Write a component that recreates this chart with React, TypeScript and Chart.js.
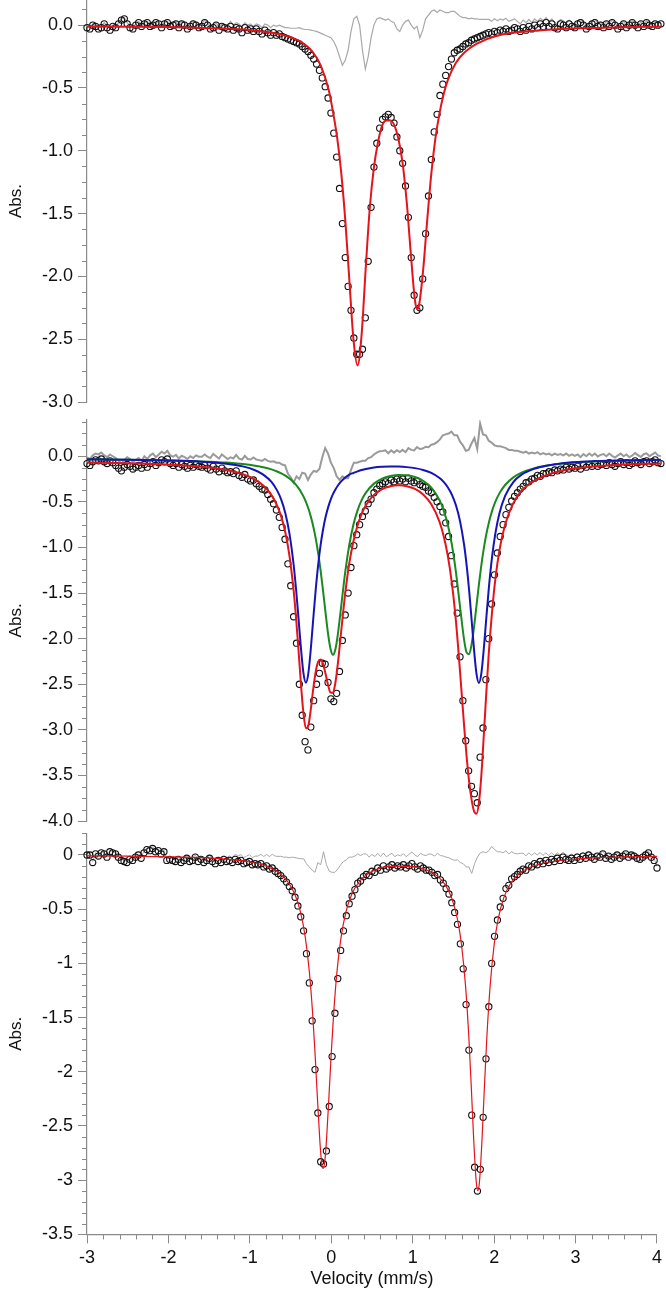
import React, { useEffect, useRef } from "react";
import { Chart, registerables } from "chart.js";

Chart.register(...registerables);

const FONT = "'Liberation Sans', Arial, Helvetica, sans-serif";
Chart.defaults.font.family = FONT;

// ---------- velocity channels (mm/s) ----------
const velocity = [
  -3, -2.965, -2.93, -2.895, -2.86, -2.825, -2.79, -2.755, -2.72, -2.685,
  -2.65, -2.615, -2.58, -2.545, -2.51, -2.475, -2.44, -2.405, -2.37, -2.335,
  -2.3, -2.265, -2.23, -2.195, -2.16, -2.125, -2.09, -2.055, -2.02, -1.985,
  -1.95, -1.915, -1.88, -1.845, -1.81, -1.775, -1.74, -1.705, -1.67, -1.635,
  -1.6, -1.565, -1.53, -1.495, -1.46, -1.425, -1.39, -1.355, -1.32, -1.285,
  -1.25, -1.215, -1.18, -1.145, -1.11, -1.075, -1.04, -1.005, -0.97, -0.935,
  -0.9, -0.865, -0.83, -0.795, -0.76, -0.725, -0.69, -0.655, -0.62, -0.585,
  -0.55, -0.515, -0.48, -0.445, -0.41, -0.375, -0.34, -0.305, -0.27, -0.235,
  -0.2, -0.165, -0.13, -0.095, -0.06, -0.025, 0.01, 0.045, 0.08, 0.115,
  0.15, 0.185, 0.22, 0.255, 0.29, 0.325, 0.36, 0.395, 0.43, 0.465,
  0.5, 0.535, 0.57, 0.605, 0.64, 0.675, 0.71, 0.745, 0.78, 0.815,
  0.85, 0.885, 0.92, 0.955, 0.99, 1.025, 1.06, 1.095, 1.13, 1.165,
  1.2, 1.235, 1.27, 1.305, 1.34, 1.375, 1.41, 1.445, 1.48, 1.515,
  1.55, 1.585, 1.62, 1.655, 1.69, 1.725, 1.76, 1.795, 1.83, 1.865,
  1.9, 1.935, 1.97, 2.005, 2.04, 2.075, 2.11, 2.145, 2.18, 2.215,
  2.25, 2.285, 2.32, 2.355, 2.39, 2.425, 2.46, 2.495, 2.53, 2.565,
  2.6, 2.635, 2.67, 2.705, 2.74, 2.775, 2.81, 2.845, 2.88, 2.915,
  2.95, 2.985, 3.02, 3.055, 3.09, 3.125, 3.16, 3.195, 3.23, 3.265,
  3.3, 3.335, 3.37, 3.405, 3.44, 3.475, 3.51, 3.545, 3.58, 3.615,
  3.65, 3.685, 3.72, 3.755, 3.79, 3.825, 3.86, 3.895, 3.93, 3.965,
  4,
];

// ---------- top panel ----------
const topData = [
  -0.02, -0.03, 0.0, -0.01, -0.03, -0.02, 0.01, -0.02, -0.04, -0.01,
  -0.02, 0.01, 0.04, 0.05, 0.01, -0.02, -0.03, 0.0, 0.02, -0.01,
  0.01, 0.02, -0.01, 0.0, 0.02, 0.01, -0.02, 0.01, 0.02, -0.01,
  0.0, 0.01, -0.02, 0.01, 0.0, -0.03, -0.01, 0.01, 0.0, -0.02,
  -0.01, 0.02, 0.0, -0.03, -0.02, 0.0, -0.04, -0.01, -0.02, -0.03,
  -0.01, -0.04, -0.02, -0.03, -0.06, -0.02, -0.04, -0.03, -0.05, -0.03,
  -0.05, -0.07, -0.04, -0.06, -0.08, -0.06, -0.08, -0.07, -0.09, -0.1,
  -0.11, -0.12, -0.13, -0.14, -0.15, -0.17, -0.19, -0.21, -0.24, -0.27,
  -0.31, -0.36, -0.42, -0.49, -0.58, -0.7, -0.86, -1.05, -1.3, -1.58,
  -1.85, -2.08, -2.27, -2.49, -2.62, -2.62, -2.58, -2.33, -1.88, -1.45,
  -1.13, -0.94, -0.82, -0.75, -0.73, -0.71, -0.735, -0.78, -0.89, -1.0,
  -1.1, -1.28, -1.53, -1.85, -2.15, -2.27, -2.25, -2.02, -1.66, -1.36,
  -1.07, -0.85, -0.71, -0.56, -0.47, -0.4, -0.33, -0.27, -0.22, -0.2,
  -0.19, -0.17, -0.15, -0.14, -0.12, -0.11, -0.1, -0.09, -0.08, -0.07,
  -0.06, -0.07, -0.05, -0.06, -0.04, -0.05, -0.03, -0.05, -0.04, -0.02,
  -0.03, -0.05, -0.02, -0.04, -0.01, -0.03, 0.0, -0.02, 0.01, -0.01,
  0.02, -0.01, 0.01, -0.02, -0.03, 0.01, 0.0, -0.02, 0.01, -0.01,
  -0.02, 0.01, 0.02, 0.0, -0.03, -0.01, 0.01, 0.02, -0.01, 0.0,
  -0.02, 0.01, -0.01, 0.02, 0.0, -0.03, -0.01, 0.01, -0.02, 0.0,
  0.02, 0.0, -0.02, 0.01, -0.01, 0.02, 0.0, -0.01, 0.01, 0.0,
  0.01,
];
const topResidual = [
  -0.01, -0.02, 0.01, 0.0, -0.02, -0.01, 0.02, -0.01, -0.03, 0.0,
  -0.01, 0.02, 0.05, 0.06, 0.02, -0.01, -0.02, 0.01, 0.03, 0.0,
  0.02, 0.03, 0.0, 0.01, 0.03, 0.02, -0.01, 0.02, 0.03, 0.0,
  0.02, 0.03, 0.0, 0.03, 0.02, -0.01, 0.01, 0.03, 0.02, 0.0,
  0.01, 0.04, 0.02, -0.01, 0.0, 0.02, -0.02, 0.01, 0.0, -0.01,
  0.03, 0.0, 0.02, 0.01, -0.02, 0.02, 0.0, 0.01, -0.01, 0.01,
  0.0, -0.02, 0.01, 0.0, -0.02, 0.0, -0.01, 0.0, -0.01, -0.02,
  -0.02, -0.025, -0.025, -0.025, -0.02, -0.03, -0.035, -0.035, -0.04, -0.045,
  -0.05, -0.06, -0.07, -0.08, -0.09, -0.1, -0.13, -0.18, -0.25, -0.32,
  -0.28, -0.2, -0.05, 0.05, 0.07, 0.0, -0.2, -0.35, -0.25, -0.1,
  0.0, 0.05, 0.06, 0.05, 0.04, 0.05, 0.03, 0.02, -0.03, -0.05,
  0.0, 0.03, 0.04, 0.0, -0.03, -0.01, -0.1, -0.04, 0.05, 0.08,
  0.11, 0.12, 0.1, 0.12, 0.11, 0.1, 0.1, 0.11, 0.11, 0.09,
  0.07, 0.06, 0.06, 0.05, 0.055, 0.05, 0.05, 0.045, 0.045, 0.045,
  0.045, 0.03, 0.05, 0.035, 0.05, 0.04, 0.055, 0.03, 0.04, 0.05,
  0.03, 0.01, 0.04, 0.02, 0.045, 0.02, 0.05, 0.03, 0.055, 0.035,
  0.06, 0.03, 0.05, 0.02, 0.01, 0.045, 0.035, 0.01, 0.04, 0.02,
  0.005, 0.035, 0.045, 0.025, -0.005, 0.015, 0.035, 0.045, 0.015, 0.025,
  0.0, 0.03, 0.01, 0.04, 0.02, -0.01, 0.01, 0.03, 0.0, 0.02,
  0.035, 0.015, -0.005, 0.025, 0.005, 0.035, 0.015, 0.005, 0.025, 0.015,
  0.022,
];
const topFitX = [
  -3, -2.5, -2, -1.5, -1, -0.75, -0.5, -0.35, -0.25, -0.15,
  -0.05, 0, 0.05, 0.1, 0.15, 0.2, 0.25, 0.3, 0.35, 0.4,
  0.45, 0.5, 0.55, 0.6, 0.65, 0.7, 0.75, 0.8, 0.85, 0.9,
  0.95, 1.0, 1.03, 1.05, 1.1, 1.15, 1.2, 1.25, 1.3, 1.35,
  1.4, 1.5, 1.6, 1.75, 2.0, 2.5, 3.0, 3.5, 4.0,
];
const topFitY = [
  -0.01, -0.013, -0.015, -0.025, -0.04, -0.06, -0.1, -0.15, -0.21, -0.32,
  -0.52, -0.69, -0.89, -1.17, -1.55, -2.03, -2.5, -2.71, -2.46, -1.93,
  -1.45, -1.13, -0.93, -0.8, -0.76, -0.76, -0.8, -0.91, -1.1, -1.41,
  -1.82, -2.19, -2.26, -2.23, -1.95, -1.55, -1.18, -0.9, -0.7, -0.55,
  -0.44, -0.3, -0.22, -0.15, -0.085, -0.042, -0.025, -0.017, -0.012,
];

// ---------- middle panel ----------
const midData = [
  -0.08, -0.1, -0.06, -0.04, -0.05, -0.03, -0.06, -0.08, -0.05, -0.07,
  -0.1, -0.13, -0.16, -0.12, -0.09, -0.11, -0.14, -0.12, -0.1, -0.13,
  -0.09, -0.12, -0.08, -0.06, -0.1, -0.07, -0.04, -0.06, -0.03, -0.08,
  -0.1, -0.08, -0.12, -0.09, -0.11, -0.13, -0.1, -0.12, -0.09, -0.11,
  -0.12, -0.1, -0.13, -0.15, -0.11, -0.14, -0.17, -0.13, -0.16, -0.18,
  -0.17, -0.19, -0.16, -0.21, -0.23, -0.2, -0.25, -0.27, -0.26, -0.3,
  -0.33, -0.36, -0.37, -0.42, -0.47, -0.52, -0.59, -0.67, -0.78, -0.91,
  -1.18, -1.42, -1.76, -2.05, -2.5, -2.84, -3.13, -3.22, -2.97, -2.68,
  -2.5, -2.38, -2.27, -2.28, -2.48, -2.66, -2.69, -2.6, -2.36, -2.02,
  -1.74, -1.5, -1.22, -0.98, -0.86, -0.75, -0.66, -0.6, -0.52, -0.47,
  -0.4, -0.36, -0.32, -0.3, -0.28, -0.3, -0.26, -0.28, -0.25, -0.27,
  -0.25, -0.28, -0.24, -0.27, -0.29, -0.27, -0.31, -0.33, -0.34, -0.38,
  -0.4, -0.45, -0.5, -0.55, -0.61, -0.73, -0.88, -1.09, -1.4, -1.72,
  -2.2, -2.68, -3.12, -3.45, -3.62, -3.7, -3.8, -3.3, -2.98, -2.45,
  -2.0, -1.62, -1.3, -1.06, -0.88, -0.75, -0.64, -0.56, -0.49, -0.44,
  -0.4, -0.36, -0.33, -0.29, -0.28, -0.25, -0.24, -0.21, -0.22, -0.19,
  -0.19, -0.17, -0.18, -0.15, -0.16, -0.14, -0.15, -0.12, -0.14, -0.12,
  -0.13, -0.11, -0.14, -0.1, -0.12, -0.09, -0.11, -0.08, -0.11, -0.09,
  -0.08, -0.1, -0.07, -0.09, -0.11, -0.08, -0.06, -0.09, -0.07, -0.1,
  -0.08, -0.05, -0.07, -0.09, -0.06, -0.05, -0.08, -0.06, -0.04, -0.07,
  -0.08,
];
const midResidual = [
  -0.01, -0.03, 0.01, 0.03, 0.02, 0.04, 0.01, -0.01, 0.02, 0.0,
  -0.02, -0.05, -0.08, -0.04, -0.01, -0.03, -0.06, -0.04, -0.02, -0.05,
  0.0, -0.03, 0.01, 0.03, -0.01, 0.02, 0.05, 0.03, 0.06, 0.01,
  -0.005, 0.015, -0.025, 0.005, -0.01, -0.03, 0.0, -0.02, 0.01, -0.005,
  -0.005, 0.02, -0.005, -0.02, 0.025, 0.0, -0.025, 0.02, -0.005, -0.03,
  -0.012, -0.024, 0.015, -0.026, -0.036, 0.005, -0.03, -0.036, -0.013, -0.035,
  -0.042, -0.05, -0.03, -0.05, -0.06, -0.055, -0.07, -0.07, -0.09, -0.1,
  -0.19, -0.23, -0.29, -0.22, -0.25, -0.18, -0.19, -0.26, -0.2, -0.16,
  -0.17, -0.14, -0.01, 0.09, 0.03, -0.07, -0.13, -0.22, -0.26, -0.22,
  -0.24, -0.24, -0.15, -0.07, -0.07, -0.06, -0.05, -0.05, -0.02, -0.01,
  0.02, 0.04, 0.055, 0.057, 0.065, 0.033, 0.065, 0.04, 0.067, 0.046,
  0.07, 0.045, 0.09, 0.07, 0.064, 0.1, 0.08, 0.085, 0.105, 0.1,
  0.127, 0.135, 0.155, 0.185, 0.23, 0.24, 0.25, 0.27, 0.23, 0.23,
  0.16, 0.12, 0.06, 0.07, 0.14, 0.2, 0.08, 0.36, 0.24, 0.23,
  0.17, 0.15, 0.12, 0.11, 0.11, 0.1, 0.09, 0.07, 0.07, 0.06,
  0.06, 0.05, 0.04, 0.05, 0.03, 0.04, 0.03, 0.045, 0.02, 0.035,
  0.02, 0.03, 0.01, 0.03, 0.015, 0.025, 0.01, 0.03, 0.005, 0.02,
  0.005, 0.02, -0.01, 0.025, 0.0, 0.03, 0.005, 0.03, -0.002, 0.015,
  0.025, 0.0, 0.03, 0.005, -0.015, 0.01, 0.03, 0.0, 0.02, -0.01,
  0.008, 0.035, 0.013, -0.007, 0.023, 0.032, 0.001, 0.02, 0.04, 0.01,
  0.0,
];
const midFitX = [
  -3, -2.5, -2, -1.6, -1.3, -1.1, -0.95, -0.85, -0.75, -0.68,
  -0.63, -0.58, -0.53, -0.48, -0.45, -0.42, -0.39, -0.36, -0.33, -0.3,
  -0.27, -0.24, -0.21, -0.18, -0.15, -0.12, -0.09, -0.06, -0.03, 0,
  0.03, 0.06, 0.1, 0.15, 0.2, 0.25, 0.3, 0.35, 0.4, 0.5,
  0.6, 0.7, 0.8, 0.9, 1.0, 1.1, 1.2, 1.3, 1.35, 1.4,
  1.45, 1.5, 1.55, 1.6, 1.63, 1.66, 1.69, 1.72, 1.75, 1.78,
  1.81, 1.84, 1.87, 1.9, 1.94, 1.98, 2.03, 2.1, 2.2, 2.3,
  2.45, 2.6, 2.8, 3.1, 3.5, 4.0,
];
const midFitBlue = [
  -0.034, -0.038, -0.046, -0.059, -0.081, -0.111, -0.153, -0.201, -0.282, -0.377,
  -0.478, -0.627, -0.851, -1.187, -1.458, -1.778, -2.11, -2.378, -2.484, -2.379,
  -2.111, -1.779, -1.459, -1.188, -0.97, -0.8, -0.667, -0.563, -0.481, -0.416,
  -0.364, -0.321, -0.276, -0.233, -0.2, -0.183, -0.166, -0.151, -0.139, -0.123,
  -0.115, -0.111, -0.113, -0.119, -0.13, -0.15, -0.183, -0.239, -0.281, -0.339,
  -0.42, -0.538, -0.711, -0.973, -1.191, -1.461, -1.781, -2.113, -2.38, -2.486,
  -2.38, -2.111, -1.779, -1.459, -1.11, -0.852, -0.628, -0.434, -0.283, -0.202,
  -0.138, -0.104, -0.076, -0.057, -0.045, -0.0375,
];
const midFitGreen = [
  -0.035, -0.039, -0.046, -0.056, -0.069, -0.085, -0.103, -0.12, -0.144, -0.167,
  -0.187, -0.212, -0.244, -0.284, -0.314, -0.349, -0.391, -0.44, -0.5, -0.573,
  -0.662, -0.77, -0.903, -1.065, -1.258, -1.481, -1.719, -1.944, -2.11, -2.178,
  -2.117, -1.951, -1.648, -1.268, -0.968, -0.748, -0.593, -0.481, -0.401, -0.3,
  -0.245, -0.217, -0.205, -0.209, -0.228, -0.269, -0.344, -0.481, -0.593, -0.748,
  -0.968, -1.27, -1.649, -2.016, -2.151, -2.171, -2.069, -1.878, -1.644, -1.407,
  -1.194, -1.011, -0.858, -0.734, -0.602, -0.501, -0.407, -0.315, -0.231, -0.179,
  -0.133, -0.105, -0.08, -0.062, -0.049, -0.041,
];
const midFitRed = [
  -0.069, -0.077, -0.092, -0.115, -0.15, -0.196, -0.256, -0.321, -0.426, -0.544,
  -0.665, -0.839, -1.095, -1.471, -1.772, -2.127, -2.501, -2.818, -2.984, -2.952,
  -2.773, -2.549, -2.362, -2.253, -2.228, -2.281, -2.386, -2.507, -2.591, -2.594,
  -2.481, -2.272, -1.924, -1.501, -1.168, -0.932, -0.759, -0.632, -0.54, -0.423,
  -0.36, -0.328, -0.318, -0.328, -0.358, -0.419, -0.527, -0.72, -0.874, -1.087,
  -1.388, -1.808, -2.36, -2.96, -3.29, -3.56, -3.76, -3.89, -3.92, -3.8,
  -3.5, -3.06, -2.6, -2.17, -1.712, -1.353, -1.035, -0.749, -0.514, -0.381,
  -0.271, -0.209, -0.156, -0.119, -0.094, -0.0785,
];

// ---------- bottom panel ----------
const botData = [
  0.0, 0.0, -0.07, 0.01, -0.01, 0.02, 0.01, -0.02, 0.03, 0.02,
  0.01, -0.02, -0.05, -0.06, -0.07, -0.04, -0.05, -0.02, 0.0, -0.03,
  0.02, 0.05, 0.04, 0.06, 0.03, 0.04, 0.01, 0.03, -0.05, -0.04,
  -0.05, -0.06, -0.04, -0.07, -0.05, -0.03, -0.06, -0.05, -0.02, -0.06,
  -0.04, -0.07, -0.05, -0.03, -0.06, -0.08, -0.05, -0.07, -0.04, -0.06,
  -0.05, -0.07, -0.04, -0.06, -0.05, -0.08, -0.07, -0.06, -0.09, -0.08,
  -0.09, -0.08, -0.11, -0.1, -0.13, -0.12, -0.15, -0.17, -0.19, -0.22,
  -0.25, -0.29, -0.33, -0.39, -0.47, -0.57, -0.7, -0.91, -1.18, -1.53,
  -1.98, -2.38, -2.83, -2.85, -2.73, -2.32, -1.86, -1.46, -1.14, -0.88,
  -0.7, -0.56, -0.45, -0.38, -0.32, -0.26, -0.24, -0.2, -0.18, -0.19,
  -0.15, -0.16, -0.12, -0.14, -0.1, -0.13, -0.11, -0.09, -0.12, -0.1,
  -0.11, -0.09, -0.12, -0.1, -0.08, -0.11, -0.13, -0.1, -0.12, -0.14,
  -0.14, -0.16, -0.19, -0.18, -0.23, -0.26, -0.31, -0.36, -0.44, -0.53,
  -0.64, -0.82, -1.05, -1.38, -1.8, -2.4, -2.88, -3.1, -2.9, -2.42,
  -1.88, -1.4, -1.0, -0.75, -0.6, -0.48, -0.4, -0.31, -0.28, -0.22,
  -0.2, -0.18, -0.15, -0.13, -0.14, -0.1, -0.11, -0.08, -0.09, -0.06,
  -0.08, -0.05, -0.07, -0.04, -0.06, -0.03, -0.05, -0.02, -0.04, -0.05,
  -0.03, -0.05, -0.02, -0.04, -0.01, -0.03, 0.0, -0.02, -0.04, -0.01,
  -0.02, 0.01, -0.03, -0.01, -0.04, -0.02, 0.0, -0.03, -0.01, 0.01,
  -0.02, 0.0, -0.01, -0.03, -0.04, -0.02, 0.0, 0.02, -0.02, -0.05,
  -0.12,
];
const botResidual = [
  0.01, 0.01, -0.06, 0.02, 0.0, 0.03, 0.02, -0.01, 0.04, 0.03,
  0.02, -0.01, -0.04, -0.05, -0.06, -0.03, -0.04, -0.01, 0.01, -0.02,
  0.035, 0.065, 0.055, 0.075, 0.045, 0.055, 0.025, 0.045, -0.035, -0.025,
  -0.033, -0.042, -0.022, -0.051, -0.03, -0.01, -0.04, -0.03, 0.0, -0.038,
  -0.016, -0.045, -0.024, -0.003, -0.032, -0.05, -0.02, -0.038, -0.008, -0.026,
  -0.008, -0.026, 0.006, -0.01, 0.004, -0.024, -0.01, 0.003, -0.024, -0.01,
  -0.01, 0.007, -0.014, 0.005, -0.015, 0.007, -0.01, -0.013, -0.012, -0.02,
  -0.02, -0.025, -0.02, -0.025, -0.03, -0.035, -0.035, -0.08, -0.11, -0.14,
  -0.16, -0.07, -0.09, 0.03, -0.09, -0.15, -0.16, -0.16, -0.13, -0.09,
  -0.06, -0.045, -0.02, -0.02, -0.01, 0.01, -0.005, 0.01, 0.01, -0.02,
  0.005, -0.015, 0.015, -0.015, 0.018, -0.017, 0.0, 0.016, -0.016, 0.002,
  -0.008, 0.013, -0.016, 0.006, 0.028, 0.0, -0.016, 0.015, 0.0, -0.005,
  0.01, 0.005, -0.01, 0.017, -0.005, -0.01, -0.02, -0.025, -0.04, -0.05,
  -0.045, -0.07, -0.08, -0.11, -0.11, -0.17, -0.08, -0.02, 0.02, 0.03,
  0.02, 0.04, 0.08, 0.05, 0.03, 0.03, 0.02, 0.04, 0.01, 0.03,
  0.015, 0.01, 0.015, 0.017, -0.008, 0.02, -0.002, 0.019, 0.0, 0.023,
  -0.004, 0.02, -0.005, 0.02, -0.004, 0.022, -0.001, 0.026, 0.004, -0.008,
  0.01, -0.012, 0.017, -0.005, 0.024, 0.003, 0.032, 0.011, -0.01, 0.018,
  0.005, 0.035, -0.006, 0.014, -0.016, 0.004, 0.023, -0.008, 0.011, 0.03,
  -0.003, 0.017, 0.006, -0.014, -0.024, -0.005, 0.015, 0.034, -0.006, -0.036,
  -0.107,
];
const botFitX = [
  -3, -2.5, -2, -1.6, -1.3, -1.0, -0.8, -0.65, -0.55, -0.45,
  -0.38, -0.32, -0.27, -0.23, -0.2, -0.17, -0.14, -0.12, -0.1, -0.08,
  -0.06, -0.03, 0, 0.03, 0.07, 0.12, 0.18, 0.25, 0.35, 0.45,
  0.6, 0.8, 1.0, 1.15, 1.3, 1.4, 1.48, 1.55, 1.6, 1.65,
  1.69, 1.72, 1.75, 1.78, 1.8, 1.82, 1.85, 1.88, 1.91, 1.95,
  2.0, 2.05, 2.12, 2.2, 2.3, 2.45, 2.6, 2.8, 3.0, 3.3,
  3.6, 4.0,
];
const botFitY = [
  -0.008, -0.011, -0.017, -0.025, -0.038, -0.065, -0.103, -0.16, -0.23, -0.358,
  -0.52, -0.756, -1.073, -1.451, -1.821, -2.245, -2.643, -2.826, -2.892, -2.827,
  -2.644, -2.246, -1.823, -1.454, -1.076, -0.76, -0.526, -0.365, -0.24, -0.173,
  -0.121, -0.103, -0.108, -0.132, -0.193, -0.276, -0.4, -0.595, -0.833, -1.219,
  -1.691, -2.15, -2.642, -3.014, -3.097, -3.013, -2.641, -2.148, -1.688, -1.216,
  -0.828, -0.589, -0.391, -0.265, -0.178, -0.111, -0.076, -0.051, -0.037, -0.025,
  -0.018, -0.013,
];

// ---------- styling ----------
const AXIS = "#8a8a8a";
const TEXT = "#111111";
const RED = "#e3141c";
const BLUE = "#1414b8";
const GREEN = "#1a8a1e";

const pts = (xs: number[], ys: number[]) => xs.map((x, i) => ({ x, y: ys[i] }));

const minorTicks = {
  id: "minorTicks",
  afterDraw(chart: any, _args: any, opts: any) {
    const ctx = chart.ctx;
    ctx.save();
    ctx.strokeStyle = AXIS;
    ctx.lineWidth = 1;
    const y = chart.scales.y;
    const ys = opts.yStep;
    for (let k = Math.ceil(y.min / ys - 1e-6); k <= Math.floor(y.max / ys + 1e-6); k++) {
      const v = k * ys;
      const r = v / 0.5;
      if (Math.abs(r - Math.round(r)) < 1e-6) continue;
      const py = Math.round(y.getPixelForValue(v)) + 0.5;
      ctx.beginPath();
      ctx.moveTo(y.right - 5, py);
      ctx.lineTo(y.right, py);
      ctx.stroke();
    }
    if (opts.xStep) {
      const x = chart.scales.x;
      const xs = opts.xStep;
      for (let k = Math.ceil(x.min / xs - 1e-6); k <= Math.floor(x.max / xs + 1e-6); k++) {
        const v = k * xs;
        if (Math.abs(v - Math.round(v)) < 1e-6) continue;
        const px = Math.round(x.getPixelForValue(v)) + 0.5;
        ctx.beginPath();
        ctx.moveTo(px, x.top);
        ctx.lineTo(px, x.top + 5);
        ctx.stroke();
      }
    }
    ctx.restore();
  },
};

type Spec = {
  top: number;
  height: number;
  padTop: number;
  padBottom: number;
  ymin: number;
  ymax: number;
  yStep: number;
  showX: boolean;
  fmt: (v: number) => string;
  datasets: any[];
};

const fixed1 = (v: number) => (Math.abs(v) < 1e-9 ? 0 : v).toFixed(1);
const plain = (v: number) => String(Math.abs(v) < 1e-9 ? 0 : Math.round(v * 10) / 10);

const dataSet = (ys: number[]) => ({
  data: pts(velocity, ys),
  showLine: false,
  pointRadius: 3.1,
  pointBorderWidth: 1.1,
  pointBorderColor: "#111",
  pointBackgroundColor: "rgba(255,255,255,0)",
  pointStyle: "circle",
  clip: false,
  order: 2,
});
const lineSet = (xs: number[], ys: number[], color: string, width: number, order: number, smooth: boolean) => ({
  data: pts(xs, ys),
  borderColor: color,
  borderWidth: width,
  pointRadius: 0,
  fill: false,
  tension: 0,
  cubicInterpolationMode: smooth ? "monotone" : "default",
  order,
});

const specs: Spec[] = [
  {
    top: -16, height: 434, padTop: 16, padBottom: 16, ymin: -3, ymax: 0.2, yStep: 0.125, showX: false, fmt: fixed1,
    datasets: [
      lineSet(velocity, topResidual, "#a9a9a9", 1.2, 3, false),
      dataSet(topData),
      lineSet(topFitX, topFitY, RED, 2, 0, true),
    ],
  },
  {
    top: 404, height: 433, padTop: 15.5, padBottom: 16, ymin: -4, ymax: 0.4, yStep: 0.125, showX: false, fmt: fixed1,
    datasets: [
      lineSet(velocity, midResidual, "#9a9a9a", 2, 4, false),
      dataSet(midData),
      lineSet(midFitX, midFitBlue, BLUE, 2, 1, true),
      lineSet(midFitX, midFitGreen, GREEN, 2, 1, true),
      lineSet(midFitX, midFitRed, RED, 2, 0, true),
    ],
  },
  {
    top: 817, height: 480, padTop: 16.3, padBottom: 3, ymin: -3.5, ymax: 0.2, yStep: 0.1, showX: true, fmt: plain,
    datasets: [
      lineSet(velocity, botResidual, "#a9a9a9", 1, 3, false),
      dataSet(botData),
      lineSet(botFitX, botFitY, RED, 1.2, 0, true),
    ],
  },
];

function buildConfig(s: Spec): any {
  const xScale: any = {
    type: "linear",
    min: -3,
    max: 4,
    display: s.showX,
    ticks: { stepSize: 1, color: TEXT, font: { size: 18, family: FONT }, padding: 4, maxRotation: 0, callback: (v: number) => String(v) },
    grid: { drawOnChartArea: false, drawTicks: true, tickLength: 9, color: AXIS, lineWidth: 1 },
    border: { display: true, color: AXIS, width: 1.2 },
    title: { display: true, text: "Velocity (mm/s)", color: TEXT, font: { size: 18, family: FONT }, padding: { top: 2, bottom: 4 } },
  };
  if (s.showX) {
    xScale.afterFit = (sc: any) => { sc.height = 59.6; };
  }
  return {
    type: "line",
    data: { datasets: s.datasets },
    plugins: [minorTicks],
    options: {
      animation: false,
      responsive: false,
      devicePixelRatio: 1,
      events: [],
      layout: { padding: { top: s.padTop, bottom: s.padBottom, left: 0, right: 5 } },
      plugins: {
        legend: { display: false },
        tooltip: { enabled: false },
        minorTicks: { yStep: s.yStep, xStep: s.showX ? 0.2 : 0 },
      },
      scales: {
        x: xScale,
        y: {
          type: "linear",
          min: s.ymin,
          max: s.ymax,
          ticks: { stepSize: 0.5, includeBounds: false, color: TEXT, font: { size: 18, family: FONT }, padding: 5, callback: (v: number) => s.fmt(v) },
          grid: { drawOnChartArea: false, drawTicks: true, tickLength: 9, color: AXIS, lineWidth: 1 },
          border: { display: true, color: AXIS, width: 1.2 },
          title: { display: true, text: "Abs.", color: TEXT, font: { size: 17, family: FONT }, padding: { top: 6, bottom: 0 } },
          afterFit: (sc: any) => { sc.width = 87; },
        },
      },
    },
  };
}

function Panel({ spec }: { spec: Spec }) {
  const ref = useRef<HTMLCanvasElement>(null);
  useEffect(() => {
    const chart = new Chart(ref.current as HTMLCanvasElement, buildConfig(spec));
    return () => chart.destroy();
  }, [spec]);
  return (
    <canvas
      ref={ref}
      width={666}
      height={spec.height}
      style={{ position: "absolute", left: 0, top: spec.top, width: 666, height: spec.height }}
    />
  );
}

export default function App() {
  return (
    <div
      style={{
        position: "absolute",
        left: 0,
        top: 0,
        width: 666,
        height: 1289,
        overflow: "hidden",
        background: "#ffffff",
      }}
    >
      {specs.map((s, i) => (
        <Panel key={i} spec={s} />
      ))}
    </div>
  );
}
